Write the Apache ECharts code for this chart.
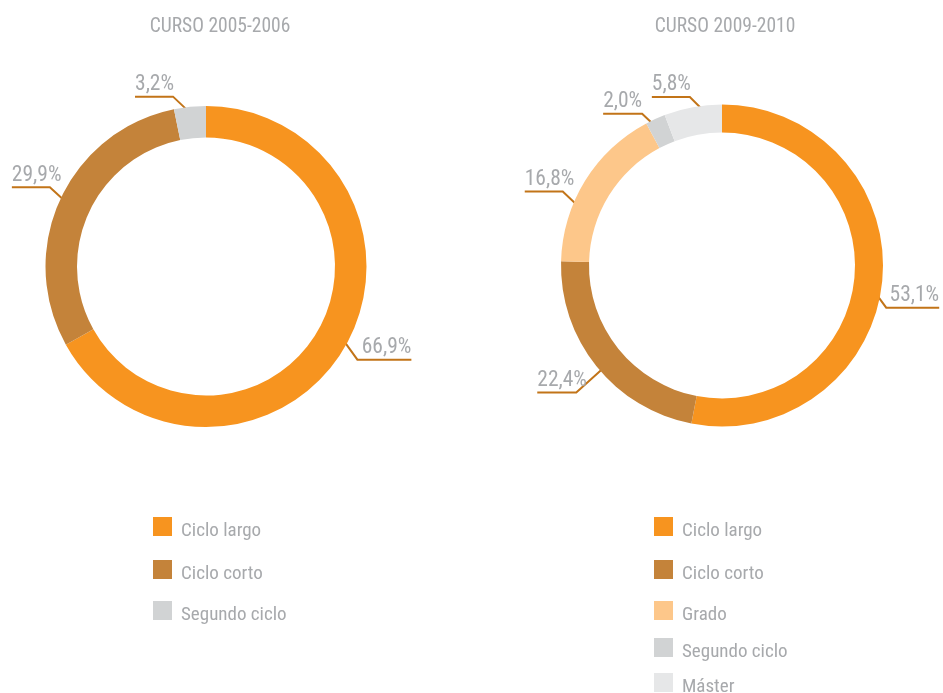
<!DOCTYPE html>
<html>
<head>
<meta charset="utf-8">
<script src="https://cdn.jsdelivr.net/npm/echarts@6/dist/echarts.min.js"></script>
<style>
  html, body { margin: 0; padding: 0; background: #ffffff; }
  #chart { width: 943px; height: 693px; }
</style>
</head>
<body>
<div id="chart"></div>
<script>
// Enrolment share by degree type, two academic years
const titleLeft = 'CURSO 2005-2006';
const titleRight = 'CURSO 2009-2010';

const categoriesLeft = ['Ciclo largo', 'Ciclo corto', 'Segundo ciclo'];
const valuesLeft = [66.9, 29.9, 3.2];

const categoriesRight = ['Ciclo largo', 'Ciclo corto', 'Grado', 'Segundo ciclo', 'Máster'];
const valuesRight = [53.1, 22.4, 16.8, 2.0, 5.8];

// Colours per category
const palette = {
  'Ciclo largo': '#f7941f',
  'Ciclo corto': '#c4833a',
  'Grado': '#fdc78a',
  'Segundo ciclo': '#d1d3d4',
  'Máster': '#e6e7e8'
};

// Leader line shape per label: angular nudge (deg), inset into ring,
// diagonal dx/dy and horizontal run
const leaderLeft = [
  { rot: -1.9, inset: 3, dx: 13, dy: 18, h: 54 },
  { rot: 0.7, inset: 1, dx: 12, dy: 11, h: 38 },
  { rot: 0.5, inset: 8, dx: 19, dy: 18, h: 38 }
];
const leaderRight = [
  { rot: 3.3, inset: 9, dx: 14, dy: 19, h: 53 },
  { rot: -2.1, inset: 8, dx: 30, dy: 27, h: 39 },
  { rot: -10, inset: 10, dx: 19, dy: 18, h: 38 },
  { rot: 0, inset: 14, dx: 19, dy: 18, h: 39 },
  { rot: 5.4, inset: 11, dx: 19, dy: 19, h: 38 }
];

// Legend rows (top offsets of each entry)
const legendRowsLeft = [517, 560, 601];
const legendRowsRight = [517, 560, 601, 638, 673];

const FONT = "'Liberation Sans Narrow', 'Roboto Condensed', 'Arial Narrow', Roboto, sans-serif";
const GREY = '#a7a9ac';
const LINE = '#c27418';

function fmt(v) {
  return v.toFixed(1).replace('.', ',') + '%';
}

function leaderLayout(geom, outerR) {
  return function (params) {
    const pts = params.labelLinePoints;
    if (!pts) return {};
    const g = geom[params.dataIndex];
    const p0 = pts[0], p1 = pts[1];
    let ux = p1[0] - p0[0], uy = p1[1] - p0[1];
    const len = Math.hypot(ux, uy) || 1;
    ux /= len; uy /= len;
    const cx = p0[0] - ux * outerR, cy = p0[1] - uy * outerR;
    const a = g.rot * Math.PI / 180;
    const vx = ux * Math.cos(a) - uy * Math.sin(a);
    const vy = ux * Math.sin(a) + uy * Math.cos(a);
    const sx = ux < 0 ? -1 : 1;
    const sy = uy < 0 ? -1 : 1;
    const r0 = outerR - g.inset;
    const start = [cx + vx * r0, cy + vy * r0];
    const bend = [start[0] + sx * g.dx, start[1] + sy * g.dy];
    const end = [bend[0] + sx * g.h, bend[1]];
    return {
      x: end[0],
      y: end[1] - 1,
      align: sx < 0 ? 'left' : 'right',
      verticalAlign: 'bottom',
      labelLinePoints: [start, bend, end]
    };
  };
}

function pieSeries(name, cats, vals, center, radius, geom) {
  return {
    type: 'pie',
    name: name,
    center: center,
    radius: radius,
    startAngle: 90,
    clockwise: true,
    avoidLabelOverlap: false,
    silent: true,
    emphasis: { scale: false },
    data: cats.map((c, i) => ({ name: c, value: vals[i], itemStyle: { color: palette[c] } })),
    label: {
      show: true,
      position: 'outside',
      formatter: p => fmt(p.value),
      color: GREY,
      fontFamily: FONT,
      fontSize: 21.5,
      padding: 0
    },
    labelLine: {
      show: true,
      length: 17,
      length2: 40,
      smooth: false,
      lineStyle: { color: LINE, width: 2 }
    },
    labelLayout: leaderLayout(geom, radius[1])
  };
}

function legendRows(cats, rows, left) {
  return cats.map((c, i) => ({
    data: [c],
    orient: 'vertical',
    left: left,
    top: rows[i],
    padding: 0,
    itemWidth: 19,
    itemHeight: 19,
    itemGap: 0,
    icon: 'rect',
    selectedMode: false,
    formatter: '{t|{name}}',
    textStyle: {
      color: GREY, fontFamily: FONT, fontSize: 19,
      rich: { t: { color: GREY, fontFamily: FONT, fontSize: 19, padding: [9, 0, 0, 4] } }
    }
  }));
}

const chart = echarts.init(document.getElementById('chart'), null, { renderer: 'canvas' });

chart.setOption({
  backgroundColor: '#ffffff',
  animation: false,
  title: [
    { text: titleLeft, left: 215, top: 12, textAlign: 'center',
      textStyle: { color: GREY, fontFamily: FONT, fontSize: 19.5, fontWeight: 'normal' } },
    { text: titleRight, left: 720, top: 12, textAlign: 'center',
      textStyle: { color: GREY, fontFamily: FONT, fontSize: 19.5, fontWeight: 'normal' } }
  ],
  legend: legendRows(categoriesLeft, legendRowsLeft, 153)
    .concat(legendRows(categoriesRight, legendRowsRight, 654)),
  series: [
    pieSeries(titleLeft, categoriesLeft, valuesLeft, [206, 266.5], [129, 160.5], leaderLeft),
    pieSeries(titleRight, categoriesRight, valuesRight, [722, 265.5], [133, 161], leaderRight)
  ]
});
</script>
</body>
</html>
